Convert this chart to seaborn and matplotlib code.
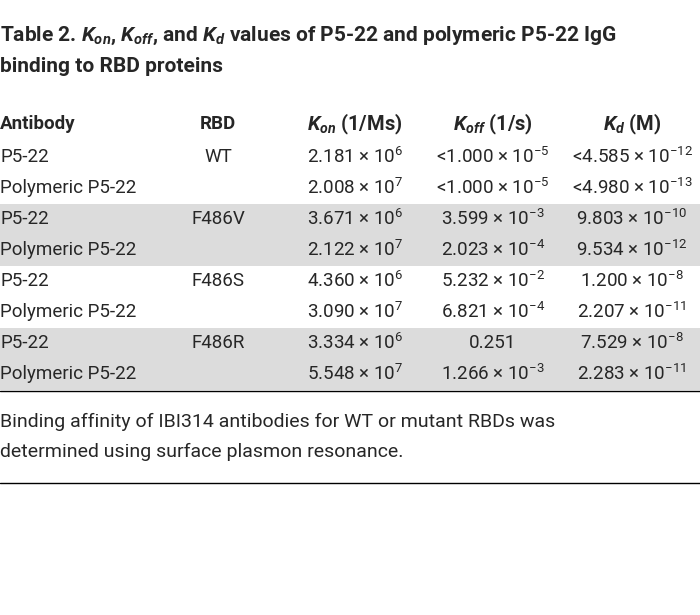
import matplotlib
matplotlib.use("Agg")
import matplotlib.pyplot as plt
import seaborn as sns
from matplotlib import font_manager

names = {f.name for f in font_manager.fontManager.ttflist}
FAM = "Liberation Sans Narrow" if "Liberation Sans Narrow" in names else "Roboto"

antibodies = ["P5-22", "Polymeric P5-22"] * 4
rbd = ["WT", "", "F486V", "", "F486S", "", "F486R", ""]
kon = [r"2.181 $\times$ 10$^{6}$", r"2.008 $\times$ 10$^{7}$", r"3.671 $\times$ 10$^{6}$", r"2.122 $\times$ 10$^{7}$",
       r"4.360 $\times$ 10$^{6}$", r"3.090 $\times$ 10$^{7}$", r"3.334 $\times$ 10$^{6}$", r"5.548 $\times$ 10$^{7}$"]
koff = [r"<1.000 $\times$ 10$^{-5}$", r"<1.000 $\times$ 10$^{-5}$", r"3.599 $\times$ 10$^{-3}$", r"2.023 $\times$ 10$^{-4}$",
        r"5.232 $\times$ 10$^{-2}$", r"6.821 $\times$ 10$^{-4}$", "0.251", r"1.266 $\times$ 10$^{-3}$"]
kd = [r"<4.585 $\times$ 10$^{-12}$", r"<4.980 $\times$ 10$^{-13}$", r"9.803 $\times$ 10$^{-10}$", r"9.534 $\times$ 10$^{-12}$",
      r"1.200 $\times$ 10$^{-8}$", r"2.207 $\times$ 10$^{-11}$", r"7.529 $\times$ 10$^{-8}$", r"2.283 $\times$ 10$^{-11}$"]
shaded = [False, False, True, True, False, False, True, True]

sns.set_theme(style="white")
plt.rcParams.update({"font.family": FAM, "mathtext.fontset": "custom",
                     "mathtext.rm": FAM, "mathtext.it": FAM + ":italic:bold",
                     "mathtext.bf": FAM + ":bold"})

fig = plt.figure(figsize=(7, 6.15), dpi=100)
ax = fig.add_axes([0, 0, 1, 1])
ax.set_xlim(0, 700); ax.set_ylim(615, 0); ax.axis("off")

fs = 13.5
tfs = 15
ax.text(0, 36, r"Table 2. $K_{on}$, $K_{off}$, and $K_{d}$ values of P5-22 and polymeric P5-22 IgG",
        fontsize=tfs, fontweight="bold", va="center")
ax.text(0, 66, "binding to RBD proteins", fontsize=tfs, fontweight="bold", va="center")

hy = 124
ax.text(0, hy, "Antibody", fontsize=fs, fontweight="bold", va="center")
ax.text(218, hy, "RBD", fontsize=fs, fontweight="bold", va="center", ha="center")
ax.text(355, hy, r"$K_{on}$ (1/Ms)", fontsize=fs + 1, fontweight="bold", va="center", ha="center")
ax.text(493, hy, r"$K_{off}$ (1/s)", fontsize=fs + 1, fontweight="bold", va="center", ha="center")
ax.text(632, hy, r"$K_{d}$ (M)", fontsize=fs + 1, fontweight="bold", va="center", ha="center")

y0, dy = 157, 31
for i in range(len(antibodies)):
    y = y0 + i * dy
    if shaded[i]:
        ax.axhspan(y - dy / 2, y + dy / 2, color="#dcdcdc", lw=0, zorder=0)
    ax.text(0, y, antibodies[i], fontsize=fs, va="center")
    ax.text(218, y, rbd[i], fontsize=fs, va="center", ha="center")
    ax.text(355, y, kon[i], fontsize=fs, va="center", ha="center")
    ax.text(493, y, koff[i], fontsize=fs, va="center", ha="center")
    ax.text(632, y, kd[i], fontsize=fs, va="center", ha="center")

ax.axhline(391, color="black", lw=1)
ax.text(0, 422, "Binding affinity of IBI314 antibodies for WT or mutant RBDs was", fontsize=fs + 0.5, va="center")
ax.text(0, 452, "determined using surface plasmon resonance.", fontsize=fs + 0.5, va="center")
ax.axhline(483, color="black", lw=1)

fig.savefig("out.png", dpi=100, facecolor="white")
